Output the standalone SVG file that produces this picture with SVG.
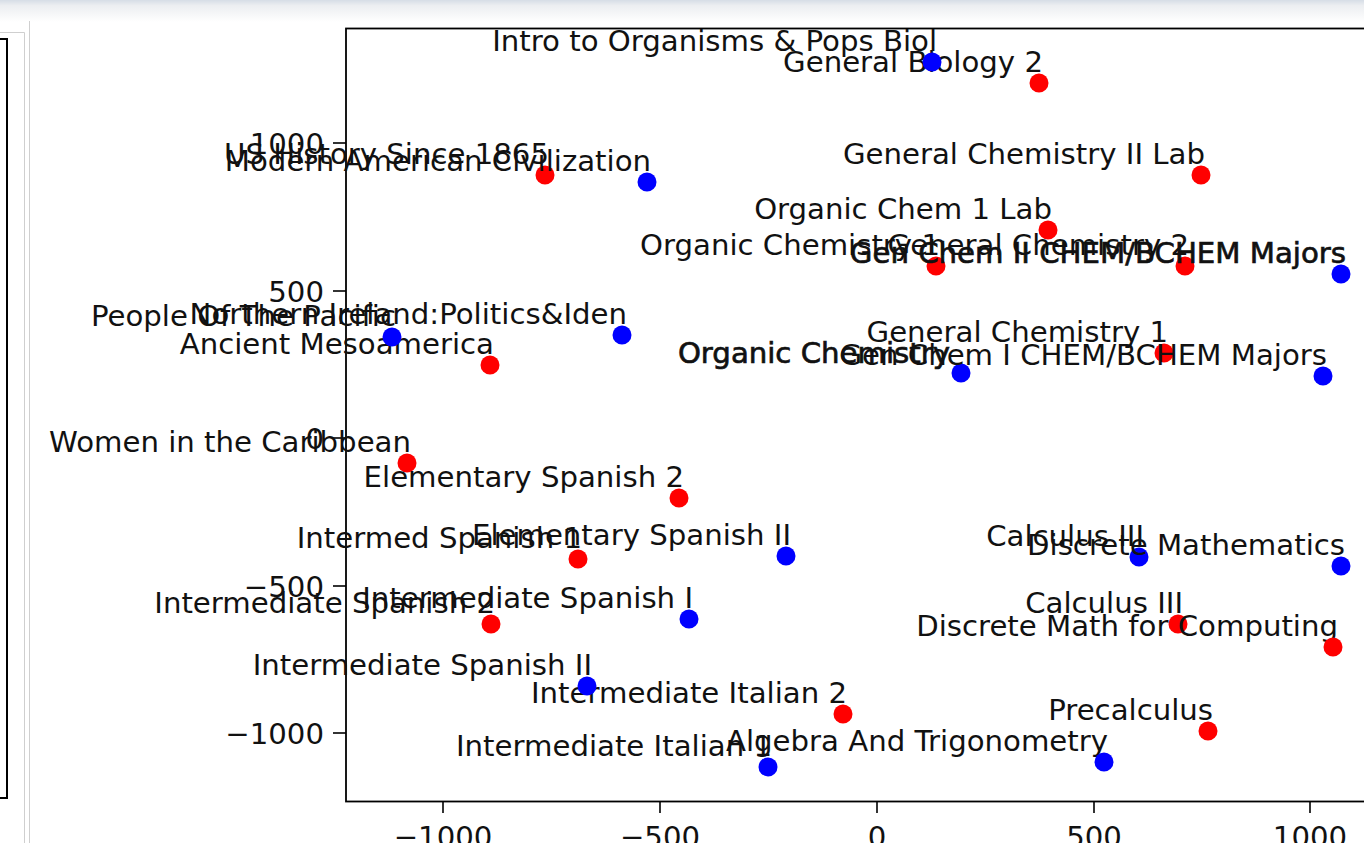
<svg xmlns="http://www.w3.org/2000/svg" width="1364" height="843" viewBox="0 0 1364 843">
<defs>
<linearGradient id="topbar" x1="0" y1="0" x2="0" y2="1">
<stop offset="0" stop-color="#d6dde6"/>
<stop offset="0.25" stop-color="#eceef1"/>
<stop offset="1" stop-color="#ffffff"/>
</linearGradient>
</defs>
<style>
text{font-family:"DejaVu Sans","Liberation Sans",sans-serif;font-size:29.2px;fill:#111}
.lbl{text-anchor:end}
.bold{stroke:#111;stroke-width:0.7px}
.tk{stroke:#000;stroke-width:1.6px}
.r{fill:#ff0000}
.b{fill:#0000ff}
.yt{text-anchor:end}
.xt{text-anchor:middle}
</style>
<rect x="0" y="0" width="1364" height="843" fill="#ffffff"/>
<rect x="0" y="0" width="1364" height="22" fill="url(#topbar)"/>
<!-- left panel -->
<g id="left-panel">
<path d="M0 32.5 H24.5 V843" fill="none" stroke="#cfcfcf" stroke-width="1"/>
<line x1="29.5" y1="21" x2="29.5" y2="843" stroke="#cfcfcf" stroke-width="1"/>
<path d="M-2 39 H7 V798 H-2" fill="none" stroke="#000" stroke-width="2"/>
</g>
<!-- axes -->
<g id="axes">
<rect x="346" y="28.5" width="1040" height="773" fill="none" stroke="#000" stroke-width="1.8"/>
<line class="tk" x1="333" y1="143" x2="346" y2="143"/>
<line class="tk" x1="333" y1="291" x2="346" y2="291"/>
<line class="tk" x1="333" y1="438" x2="346" y2="438"/>
<line class="tk" x1="333" y1="586" x2="346" y2="586"/>
<line class="tk" x1="333" y1="733" x2="346" y2="733"/>
<text class="yt" x="324" y="153.5">1000</text>
<text class="yt" x="324" y="301.5">500</text>
<text class="yt" x="324" y="448.5">0</text>
<text class="yt" x="324" y="596.5">−500</text>
<text class="yt" x="324" y="743.5">−1000</text>
<line class="tk" x1="443" y1="801" x2="443" y2="813"/>
<line class="tk" x1="660" y1="801" x2="660" y2="813"/>
<line class="tk" x1="877" y1="801" x2="877" y2="813"/>
<line class="tk" x1="1094" y1="801" x2="1094" y2="813"/>
<line class="tk" x1="1310" y1="801" x2="1310" y2="813"/>
<text class="xt" x="443" y="847">−1000</text>
<text class="xt" x="660" y="847">−500</text>
<text class="xt" x="877" y="847">0</text>
<text class="xt" x="1094" y="847">500</text>
<text class="xt" x="1310" y="847">1000</text>
</g>
<!-- points -->
<g id="n-r1"><text class="lbl" x="1043" y="72">General Biology 2</text><circle class="r" cx="1039" cy="83" r="9.5"/></g>
<g id="n-r2"><text class="lbl" x="549" y="164">US History Since 1865</text><circle class="r" cx="545" cy="175" r="9.5"/></g>
<g id="n-r3"><text class="lbl" x="1205" y="164">General Chemistry II Lab</text><circle class="r" cx="1201" cy="175" r="9.5"/></g>
<g id="n-r4"><text class="lbl" x="1052" y="219">Organic Chem 1 Lab</text><circle class="r" cx="1048" cy="230" r="9.5"/></g>
<g id="n-r5"><text class="lbl" x="940" y="255">Organic Chemistry 1</text><circle class="r" cx="936" cy="266" r="9.5"/></g>
<g id="n-r6"><text class="lbl" x="1189" y="255">General Chemistry 2</text><circle class="r" cx="1185" cy="266" r="9.5"/></g>
<g id="n-r7"><text class="lbl" x="1168" y="342">General Chemistry 1</text><circle class="r" cx="1164" cy="353" r="9.5"/></g>
<g id="n-r8"><text class="lbl" x="494" y="354">Ancient Mesoamerica</text><circle class="r" cx="490" cy="365" r="9.5"/></g>
<g id="n-r9"><text class="lbl" x="411" y="452">Women in the Caribbean</text><circle class="r" cx="407" cy="463" r="9.5"/></g>
<g id="n-r10"><text class="lbl" x="684" y="487">Elementary Spanish 2</text><circle class="r" cx="679" cy="498" r="9.5"/></g>
<g id="n-r11"><text class="lbl" x="582" y="548">Intermed Spanish 1</text><circle class="r" cx="578" cy="559" r="9.5"/></g>
<g id="n-r12"><text class="lbl" x="495" y="613">Intermediate Spanish 2</text><circle class="r" cx="491" cy="624" r="9.5"/></g>
<g id="n-r13"><text class="lbl" x="1183" y="613">Calculus III</text><circle class="r" cx="1178" cy="624" r="9.5"/></g>
<g id="n-r14"><text class="lbl" x="1338" y="636">Discrete Math for Computing</text><circle class="r" cx="1333" cy="647" r="9.5"/></g>
<g id="n-r15"><text class="lbl" x="847" y="703">Intermediate Italian 2</text><circle class="r" cx="843" cy="714" r="9.5"/></g>
<g id="n-r16"><text class="lbl" x="1213" y="720">Precalculus</text><circle class="r" cx="1208" cy="731" r="9.5"/></g>
<g id="n-b1"><text class="lbl" x="937" y="51">Intro to Organisms &amp; Pops Biol</text><circle class="b" cx="932" cy="62" r="9.5"/></g>
<g id="n-b2"><text class="lbl" x="651" y="171">Modern American Civilization</text><circle class="b" cx="647" cy="182" r="9.5"/></g>
<g id="n-b3"><text class="lbl bold" x="1346" y="263">Gen Chem II CHEM/BCHEM Majors</text><circle class="b" cx="1341" cy="274" r="9.5"/></g>
<g id="n-b4"><text class="lbl" x="627" y="324">Northern Ireland:Politics&amp;Iden</text><circle class="b" cx="622" cy="335" r="9.5"/></g>
<g id="n-b5"><text class="lbl" x="396" y="326">People Of The Pacific</text><circle class="b" cx="392" cy="337" r="9.5"/></g>
<g id="n-b6"><text class="lbl bold" x="950" y="363">Organic Chemistry</text><circle class="b" cx="961" cy="373" r="9.5"/></g>
<g id="n-b7"><text class="lbl" x="1327" y="365">Gen Chem I CHEM/BCHEM Majors</text><circle class="b" cx="1323" cy="376" r="9.5"/></g>
<g id="n-b8"><text class="lbl" x="791" y="545">Elementary Spanish II</text><circle class="b" cx="786" cy="556" r="9.5"/></g>
<g id="n-b9"><text class="lbl" x="1144" y="546">Calculus III</text><circle class="b" cx="1139" cy="557" r="9.5"/></g>
<g id="n-b10"><text class="lbl" x="1345" y="555">Discrete Mathematics</text><circle class="b" cx="1341" cy="566" r="9.5"/></g>
<g id="n-b11"><text class="lbl" x="693" y="608">Intermediate Spanish I</text><circle class="b" cx="689" cy="619" r="9.5"/></g>
<g id="n-b12"><text class="lbl" x="592" y="675">Intermediate Spanish II</text><circle class="b" cx="587" cy="686" r="9.5"/></g>
<g id="n-b13"><text class="lbl" x="772" y="756">Intermediate Italian 1</text><circle class="b" cx="768" cy="767" r="9.5"/></g>
<g id="n-b14"><text class="lbl" x="1108" y="751">Algebra And Trigonometry</text><circle class="b" cx="1104" cy="762" r="9.5"/></g>
</svg>
